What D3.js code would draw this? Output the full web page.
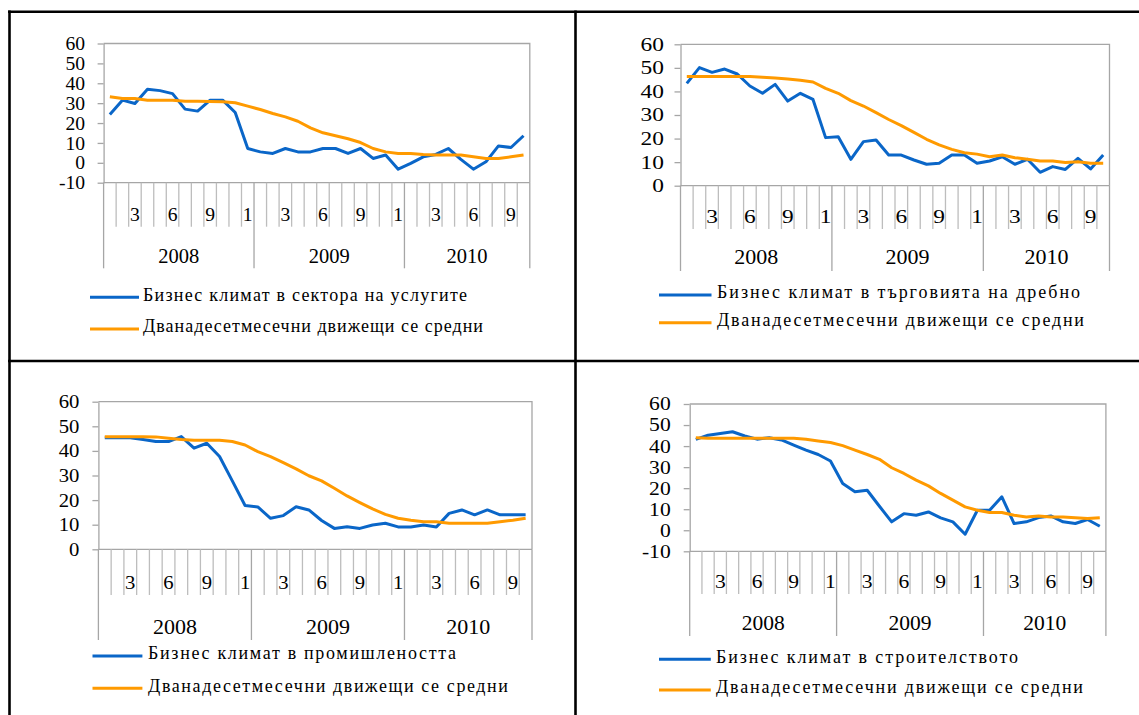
<!DOCTYPE html>
<html>
<head>
<meta charset="utf-8">
<script src="https://cdn.jsdelivr.net/npm/d3@7"></script>
<style>
  body { margin: 0; background: #fff; }
  svg { display: block; }
</style>
</head>
<body>
<div id="canvas"></div>
<script>
"use strict";

/* ===============================
   Data */
let years = ["2008", "2009", "2010"];
let monthsPerYear = [12, 12, 10];
// Excel shows "12" clipped to "1"
let monthLabels = ["", "", "3", "", "", "6", "", "", "9", "", "", "1"];

let servicesClimate = [24.3, 31.5, 29.8, 37.0, 36.3, 34.8, 27.0, 26.0, 31.5, 31.5, 25.3, 7.2,
  5.5, 4.7, 7.2, 5.5, 5.5, 7.2, 7.2, 4.7, 7.2, 2.2, 3.9, -3.2,
  -0.3, 3.0, 4.2, 7.2, 1.7, -3.2, 0.5, 8.5, 7.7, 13.6];
let servicesAvg = [33.2, 32.3, 32.3, 31.5, 31.5, 31.5, 31.0, 31.0, 30.8, 30.7, 30.2, 28.5,
  26.8, 24.8, 23.1, 20.9, 17.6, 15.1, 13.6, 12.1, 10.2, 7.2, 5.5, 4.7,
  4.7, 4.2, 3.9, 3.9, 3.9, 3.0, 2.2, 2.2, 3.0, 3.9];

let retailClimate = [43.4, 50.1, 48.1, 49.5, 47.4, 42.3, 39.2, 43.0, 35.9, 39.2, 36.6, 20.4,
  20.8, 11.2, 18.7, 19.4, 13.0, 13.0, 10.9, 9.1, 9.5, 13.0, 13.0, 9.5,
  10.5, 12.3, 9.1, 11.2, 5.7, 8.1, 6.9, 11.6, 7.1, 13.0];
let retailAvg = [46.3, 46.3, 46.3, 46.3, 46.3, 46.3, 46.0, 45.7, 45.3, 44.7, 44.0, 41.3,
  39.2, 36.1, 33.8, 31.0, 28.1, 25.5, 22.6, 19.7, 17.3, 15.4, 14.0, 13.4,
  12.3, 13.0, 11.9, 11.2, 10.5, 10.5, 9.8, 10.2, 9.5, 9.5];

let industryClimate = [45.3, 45.3, 45.3, 44.6, 43.8, 43.8, 45.8, 41.1, 43.1, 37.7, 27.8, 17.8,
  17.2, 12.6, 13.7, 17.3, 16.0, 11.7, 8.5, 9.2, 8.5, 9.9, 10.6, 9.1,
  9.1, 9.9, 9.1, 14.6, 16.0, 14.0, 16.0, 14.0, 14.0, 14.0];
let industryAvg = [45.8, 45.8, 45.8, 45.8, 45.7, 45.1, 44.6, 44.3, 44.3, 44.3, 43.8, 42.4,
  39.7, 37.7, 35.2, 32.7, 29.9, 27.8, 24.8, 21.7, 19.0, 16.4, 14.2, 12.6,
  11.8, 11.2, 11.2, 10.6, 10.6, 10.6, 10.6, 11.2, 11.8, 12.6];

let constructionClimate = [43.2, 45.2, 46.0, 46.8, 44.8, 43.3, 44.0, 42.9, 40.5, 38.1, 36.0, 32.9,
  22.2, 18.3, 19.0, 11.4, 4.0, 7.9, 7.1, 8.7, 5.9, 4.0, -1.9, 9.5,
  9.5, 15.9, 3.2, 4.0, 6.0, 6.8, 4.0, 3.2, 5.1, 1.9];
let constructionAvg = [44.0, 43.7, 43.7, 43.7, 43.7, 43.7, 43.7, 43.7, 43.7, 43.2, 42.4, 41.7,
  40.2, 38.1, 36.0, 33.7, 29.7, 27.0, 23.8, 21.1, 17.5, 14.3, 11.1, 9.5,
  8.4, 8.4, 7.1, 6.3, 6.8, 6.3, 6.3, 6.0, 5.6, 6.0];

let climateNames = [
  "Бизнес климат в сектора на услугите",
  "Бизнес климат в търговията на дребно",
  "Бизнес климат в промишлеността",
  "Бизнес климат в строителството"
];
let avgName = "Дванадесетмесечни движещи се средни";

/* ===============================
   Configuration */
let svgWidth = 1139;
let svgHeight = 715;
let blue = "#0a66c8";
let orange = "#ff9a00";
let axisGray = "#a6a6a6";
let tickGray = "#bdbdbd";
let serif = "'Liberation Serif', 'Times New Roman', serif";

/* Category list built from years and month counts */
let categories = [];
for (let y = 0; y < years.length; y = y + 1) {
  for (let m = 1; m <= monthsPerYear[y]; m = m + 1) {
    categories.push({ year: years[y], month: m, label: monthLabels[m - 1] });
  }
}

/* Panel layout (page pixels); sx = horizontal stretch of the pasted picture */
let panels = [
  { climate: servicesClimate, avg: servicesAvg, name: climateNames[0],
    left: 103.6, right: 529.8, top: 43.5, bottom: 182.7, domain: [-10, 60],
    monthBottom: 226.7, yearBottom: 268.3, monthLabelY: 215, yearLabelY: 256.7, labelGap: 18.5,
    font: 18.7, sx: 1.05, yearFont: 20.5,
    legX1: 90, legX2: 139, legTextX: 143, legY: [297.3, 329], legW: [324, 340] },
  { climate: retailClimate, avg: retailAvg, name: climateNames[1],
    left: 680.5, right: 1109.5, top: 44.3, bottom: 185.7, domain: [0, 60],
    monthBottom: 229, yearBottom: 271, monthLabelY: 217, yearLabelY: 257, labelGap: 16.5,
    font: 18, sx: 1.3, yearFont: 22,
    legX1: 659, legX2: 711.5, legTextX: 717, legY: [295, 322.7], legW: [363, 367] },
  { climate: industryClimate, avg: industryAvg, name: climateNames[2],
    left: 98.4, right: 532, top: 401.7, bottom: 549.3, domain: [0, 60],
    monthBottom: 595, yearBottom: 640, monthLabelY: 582.7, yearLabelY: 626.7, labelGap: 19,
    font: 18, sx: 1.15, yearFont: 22,
    legX1: 92.5, legX2: 142.4, legTextX: 148, legY: [656, 688.3], legW: [308, 360] },
  { climate: constructionClimate, avg: constructionAvg, name: climateNames[3],
    left: 689.7, right: 1105.9, top: 404, bottom: 551.3, domain: [-10, 60],
    monthBottom: 594, yearBottom: 636, monthLabelY: 582, yearLabelY: 623, labelGap: 19,
    font: 18, sx: 1.2, yearFont: 21.5,
    legX1: 659, legX2: 710.8, legTextX: 716, legY: [659.3, 690], legW: [302, 367] }
];

/* Create drawing canvas */
let svg = d3.select("#canvas")
  .append("svg")
  .attr("width", svgWidth)
  .attr("height", svgHeight);

/* Table borders */
let borders = [
  [8, 11.7, 1139, 11.7],
  [8, 361, 1139, 361],
  [9.5, 10.5, 9.5, 715],
  [575.5, 10.5, 575.5, 715]
];
svg.selectAll("line.border")
  .data(borders)
  .join("line")
  .attr("class", "border")
  .attr("x1", d => d[0]).attr("y1", d => d[1])
  .attr("x2", d => d[2]).attr("y2", d => d[3])
  .attr("stroke", "#000")
  .attr("stroke-width", 2.6);

function drawPanel(p) {
  let g = svg.append("g");

  let xScale = d3.scaleBand()
    .domain(d3.range(categories.length))
    .range([p.left, p.right])
    .padding(0);
  let bw = xScale.bandwidth();

  let yScale = d3.scaleLinear()
    .domain(p.domain)
    .range([p.bottom, p.top]);

  let axisY = yScale(p.domain[0]);

  /* Plot frame: top and right */
  g.append("path")
    .attr("d", "M" + p.left + "," + yScale(60) + "H" + p.right + "V" + axisY)
    .attr("fill", "none")
    .attr("stroke", axisGray)
    .attr("stroke-width", 1.3);

  /* Y axis */
  let yAxis = d3.axisLeft(yScale)
    .tickValues(d3.range(p.domain[0], 61, 10))
    .tickFormat(d => String(d))
    .tickSize(6)
    .tickSizeOuter(0);
  let ya = g.append("g")
    .attr("transform", "translate(" + p.left + ",0)")
    .call(yAxis);
  ya.attr("font-family", null).attr("font-size", null);
  ya.select(".domain").attr("stroke", axisGray).attr("stroke-width", 1.3);
  ya.selectAll(".tick line").attr("stroke", axisGray).attr("stroke-width", 1.3);
  ya.selectAll(".tick text")
    .attr("x", 0)
    .attr("transform", "translate(" + (-p.labelGap) + ",0) scale(" + p.sx + ",1)")
    .attr("font-family", serif)
    .attr("font-size", p.font)
    .attr("fill", "#000")
    .attr("dy", "0.33em");

  /* X axis line */
  g.append("line")
    .attr("x1", p.left).attr("x2", p.right)
    .attr("y1", axisY).attr("y2", axisY)
    .attr("stroke", axisGray)
    .attr("stroke-width", 1.3);

  /* Category boundaries: month ticks and year separators */
  let boundaries = d3.range(categories.length + 1);
  let isYearEdge = i => i === categories.length || categories[i].month === 1;
  g.selectAll("line.catTick")
    .data(boundaries)
    .join("line")
    .attr("class", "catTick")
    .attr("x1", i => i < categories.length ? xScale(i) : p.right)
    .attr("x2", i => i < categories.length ? xScale(i) : p.right)
    .attr("y1", axisY)
    .attr("y2", i => isYearEdge(i) ? p.yearBottom : p.monthBottom)
    .attr("stroke", i => isYearEdge(i) ? axisGray : tickGray)
    .attr("stroke-width", 1.3);

  /* Month labels */
  g.selectAll("text.month")
    .data(categories.map((c, i) => ({ c: c, i: i })).filter(d => d.c.label !== ""))
    .join("text")
    .attr("class", "month")
    .attr("transform", d => "translate(" + (xScale(d.i) + bw / 2) + "," + p.monthLabelY + ") scale(" + p.sx + ",1)")
    .attr("dy", "0.33em")
    .attr("text-anchor", "middle")
    .attr("font-family", serif)
    .attr("font-size", p.font)
    .text(d => d.c.label);

  /* Year labels */
  let start = 0;
  for (let k = 0; k < years.length; k = k + 1) {
    let x0 = xScale(start);
    let end = start + monthsPerYear[k];
    let x1 = end < categories.length ? xScale(end) : p.right;
    g.append("text")
      .attr("x", (x0 + x1) / 2)
      .attr("y", p.yearLabelY)
      .attr("dy", "0.33em")
      .attr("text-anchor", "middle")
      .attr("font-family", serif)
      .attr("font-size", p.yearFont)
      .text(years[k]);
    start = end;
  }

  /* Series lines */
  let line = d3.line()
    .x((d, i) => xScale(i) + bw / 2)
    .y(d => yScale(d));

  g.append("path")
    .datum(p.climate)
    .attr("d", line)
    .attr("fill", "none")
    .attr("stroke", blue)
    .attr("stroke-width", 3)
    .attr("stroke-linejoin", "round");

  g.append("path")
    .datum(p.avg)
    .attr("d", line)
    .attr("fill", "none")
    .attr("stroke", orange)
    .attr("stroke-width", 3)
    .attr("stroke-linejoin", "round");

  /* Legend */
  let legend = [
    { name: p.name, color: blue },
    { name: avgName, color: orange }
  ];
  for (let k = 0; k < legend.length; k = k + 1) {
    g.append("line")
      .attr("x1", p.legX1).attr("x2", p.legX2)
      .attr("y1", p.legY[k]).attr("y2", p.legY[k])
      .attr("stroke", legend[k].color)
      .attr("stroke-width", 3);
    g.append("text")
      .attr("x", p.legTextX)
      .attr("y", p.legY[k] - 2.5)
      .attr("dy", "0.33em")
      .attr("font-family", serif)
      .attr("font-size", 18)
      .attr("textLength", p.legW[k])
      .attr("lengthAdjust", "spacing")
      .text(legend[k].name);
  }
}

for (let i = 0; i < panels.length; i = i + 1) {
  drawPanel(panels[i]);
}
</script>
</body>
</html>
